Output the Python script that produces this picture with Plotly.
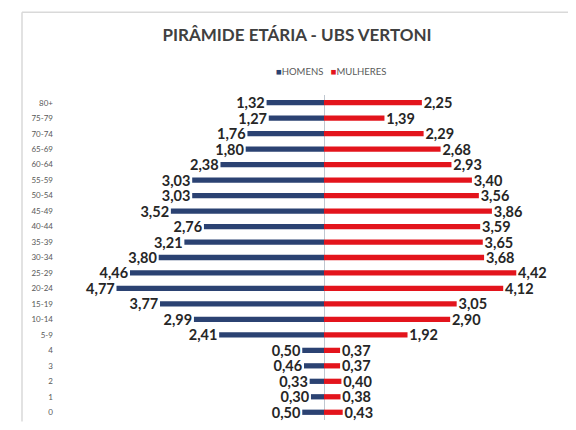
import plotly.graph_objects as go

age_groups = ['80+', '75-79', '70-74', '65-69', '60-64', '55-59', '50-54', '45-49',
              '40-44', '35-39', '30-34', '25-29', '20-24', '15-19', '10-14', '5-9',
              '4', '3', '2', '1', '0']
homens = [1.32, 1.27, 1.76, 1.80, 2.38, 3.03, 3.03, 3.52, 2.76, 3.21, 3.80,
          4.46, 4.77, 3.77, 2.99, 2.41, 0.50, 0.46, 0.33, 0.30, 0.50]
mulheres = [2.25, 1.39, 2.29, 2.68, 2.93, 3.40, 3.56, 3.86, 3.59, 3.65, 3.68,
            4.42, 4.12, 3.05, 2.90, 1.92, 0.37, 0.37, 0.40, 0.38, 0.43]
series_names = ['HOMENS', 'MULHERES']

def fmt(v):
    return f"{v:.2f}".replace('.', ',')

OFF = 8  # page body margin offset
W, H = 576 - 2 * OFF, 430 - 2 * OFF   # keep the page free of scrollbars
# target positions measured on the page, converted to figure pixels
ML = 57 - OFF
MT = 95 - OFF
MB = H - (420.5 - OFF)
MR = 0
PW, PH = W - ML - MR, H - MT - MB
CENTER = 324 - OFF
SCALE = 43.5

def px_x(x):
    return (x - OFF - ML) / PW

def px_y(y):
    return 1 - (y - OFF - MT) / PH

BLUE = '#2B4272'
RED = '#E3141C'
label_font = dict(family='Lato', size=14.5, color='#262626', weight='bold')

fig = go.Figure()
fig.add_trace(go.Bar(
    y=age_groups, x=[-v for v in homens], orientation='h', name=series_names[0],
    marker=dict(color=BLUE, line=dict(width=0)),
    text=[fmt(v) + '\u2009' for v in homens], textposition='outside',
    textfont=label_font, constraintext='none', cliponaxis=False,
    hoverinfo='skip', showlegend=False,
))
fig.add_trace(go.Bar(
    y=age_groups, x=mulheres, orientation='h', name=series_names[1],
    marker=dict(color=RED, line=dict(width=0)),
    text=['\u2009' + fmt(v) for v in mulheres], textposition='outside',
    textfont=label_font, constraintext='none', cliponaxis=False,
    hoverinfo='skip', showlegend=False,
))

legend_text = (f'<span style="color:{BLUE}">■</span>{series_names[0]}'
               f'&nbsp;&nbsp;&nbsp;<span style="color:{RED}">■</span>{series_names[1]}')

fig.update_layout(
    width=W, height=H,
    margin=dict(l=ML, r=MR, t=MT, b=MB, autoexpand=False),
    paper_bgcolor='white', plot_bgcolor='white',
    barmode='relative', bargap=0.66,
    font=dict(family='Lato'),
    showlegend=False,
    title=dict(text='PIRÂMIDE ETÁRIA - UBS VERTONI', x=(297 - OFF) / W, xanchor='center',
               y=1 - (35 - OFF) / H, yanchor='middle', yref='container',
               font=dict(family='Lato', size=17, color='#404040', weight='bold')),
    annotations=[
        dict(text=legend_text, xref='paper', yref='paper', x=px_x(331), y=px_y(71),
             xanchor='center', yanchor='middle', showarrow=False,
             font=dict(family='Lato', size=9.5, color='#595959')),
    ],
    xaxis=dict(range=[-(CENTER - ML) / SCALE, (W - MR - CENTER) / SCALE], showgrid=False,
               showticklabels=False, zeroline=True, zerolinecolor='#BFC7D0', zerolinewidth=1,
               fixedrange=True, automargin=False),
    yaxis=dict(type='category', categoryorder='array', categoryarray=age_groups[::-1],
               showgrid=False, zeroline=False, ticks='', ticklabelstandoff=3,
               automargin=False,
               tickfont=dict(family='Lato', size=8, color='#595959'), fixedrange=True),
    shapes=[
        dict(type='line', xref='paper', yref='paper', x0=px_x(22), x1=1.0,
             y0=px_y(12), y1=px_y(12), line=dict(color='#D9D9D9', width=1.5)),
        dict(type='line', xref='paper', yref='paper', x0=px_x(22), x1=px_x(22),
             y0=px_y(12), y1=px_y(422), line=dict(color='#D9D9D9', width=1.5)),
    ],
)

fig.write_html('out.html')
